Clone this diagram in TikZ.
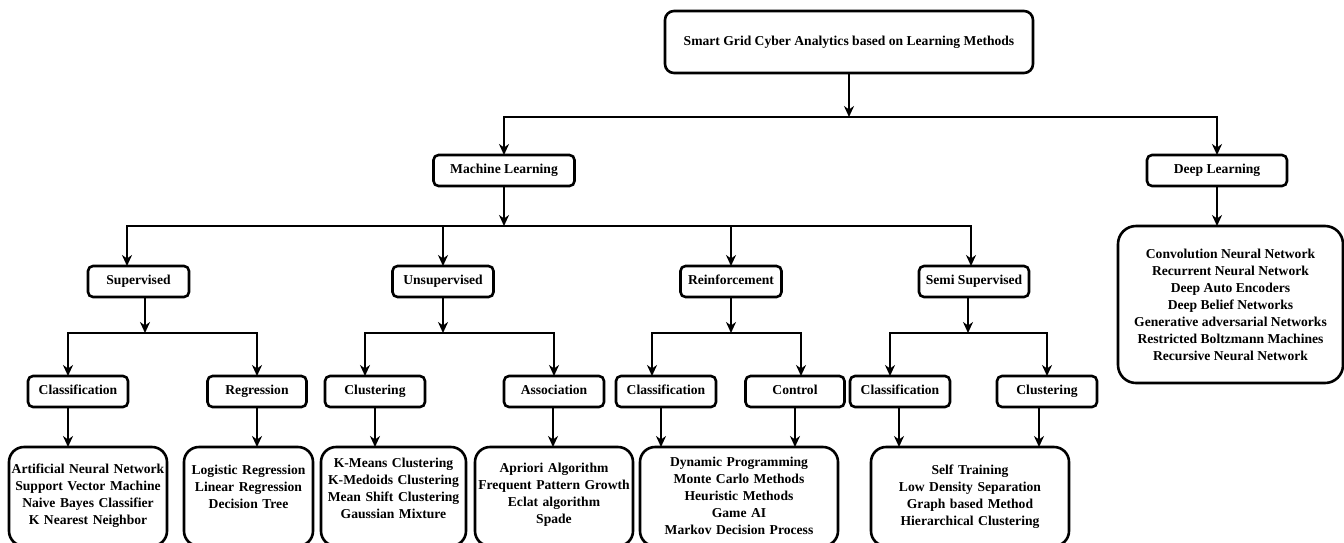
\documentclass[tikz,border=0pt]{standalone}
\usepackage{fontspec}
\setmainfont{Liberation Serif}
\usetikzlibrary{arrows.meta}
\begin{document}
\begin{tikzpicture}[x=1pt,y=-1pt,
  every node/.style={font=\fontsize{13.6}{17}\selectfont\bfseries, outer sep=0pt},
  sbox/.style={draw, line width=2.6pt, rounded corners=5pt, minimum height=31pt, inner sep=0pt, text height=9.6pt, text depth=3pt},
  lbox/.style={draw, line width=2.6pt, rounded corners=15pt, anchor=north, inner sep=0pt, align=center},
  conn/.style={line width=2.3pt, -{Stealth[length=11pt,width=10pt,inset=3.5pt]}}
]
\useasboundingbox (0,0) rectangle (1344,542);
\clip (0,0) rectangle (1344,542);

% level 0
\node[sbox, minimum width=368pt, minimum height=62pt, rounded corners=9pt] (top) at (849,42) {Smart Grid Cyber Analytics based on Learning Methods};
% level 1
\node[sbox, minimum width=141pt] (ml) at (504,170.5) {Machine Learning};
\node[sbox, minimum width=140pt] (dl) at (1217,170.5) {Deep Learning};
% level 2
\node[sbox, minimum width=101pt] (sup) at (138.5,281.5) {Supervised};
\node[sbox, minimum width=101pt] (uns) at (443,281.5) {Unsupervised};
\node[sbox, minimum width=101pt] (rei) at (731,281.5) {Reinforcement};
\node[sbox, minimum width=110pt] (sem) at (974,281.5) {Semi Supervised};
% level 3
\node[sbox, minimum width=100pt] (cls1) at (78,391.5) {Classification};
\node[sbox, minimum width=99pt] (reg) at (257,391.5) {Regression};
\node[sbox, minimum width=100pt] (clu1) at (375,391.5) {Clustering};
\node[sbox, minimum width=100pt] (ass) at (554,391.5) {Association};
\node[sbox, minimum width=100pt] (cls2) at (666,391.5) {Classification};
\node[sbox, minimum width=99pt] (con) at (795,391.5) {Control};
\node[sbox, minimum width=100pt] (cls3) at (900,391.5) {Classification};
\node[sbox, minimum width=100pt] (clu3) at (1047,391.5) {Clustering};

% deep learning list
\node[draw, line width=2.6pt, rounded corners=18pt, minimum width=225pt, minimum height=157pt, inner sep=0pt, align=center] (dll) at (1230.5,304.5)
 {Convolution Neural Network\\Recurrent Neural Network\\Deep Auto Encoders\\Deep Belief Networks\\Generative adversarial Networks\\Restricted Boltzmann Machines\\Recursive Neural Network};

% bottom lists
\node[lbox, text width=158pt, text height=26.5pt, text depth=72.5pt] (ann) at (88,447)
 {Artificial Neural Network\\Support Vector Machine\\Naive Bayes Classifier\\K Nearest Neighbor};
\node[lbox, text width=129pt, text height=27.5pt, text depth=71.5pt] (rlist) at (248.5,447)
 {Logistic Regression\\Linear Regression\\Decision Tree};
\node[lbox, text width=145pt, text height=20.5pt, text depth=78.5pt] (kml) at (393.5,447)
 {K-Means Clustering\\K-Medoids Clustering\\Mean Shift Clustering\\Gaussian Mixture};
\node[lbox, text width=158pt, text height=25.5pt, text depth=73.5pt] (apr) at (554,447)
 {Apriori Algorithm\\Frequent Pattern Growth\\Eclat algorithm\\Spade};
\node[lbox, text width=198pt, text height=19.5pt, text depth=79.5pt] (dyn) at (739,447)
 {Dynamic Programming\\Monte Carlo Methods\\Heuristic Methods\\Game AI\\Markov Decision Process};
\node[lbox, text width=198pt, text height=27.5pt, text depth=71.5pt] (slf) at (970,447)
 {Self Training\\Low Density Separation\\Graph based Method\\Hierarchical Clustering};

% junctions
\coordinate (topj) at (849,117);
\coordinate (mlj) at (504,226);
\coordinate (supj) at (145,333);
\coordinate (unsj) at (443,333);
\coordinate (reij) at (731,333);
\coordinate (semj) at (968,333);

% connectors level 0 -> 1
\draw[conn] (top.south) -- (topj);
\draw[conn] (topj) -| (ml.north);
\draw[conn] (topj) -| (dl.north);
% level 1 -> 2
\draw[conn] (ml.south) -- (mlj);
\draw[conn] (mlj) -| ([xshift=-11.5pt]sup.north);
\draw[conn] (mlj) -| (uns.north);
\draw[conn] (mlj) -| (rei.north);
\draw[conn] (mlj) -| ([xshift=-3pt]sem.north);
\draw[conn] (dl.south) -- (dl.south |- dll.north);
% level 2 -> 3
\draw[conn] ([xshift=6.5pt]sup.south) -- (supj);
\draw[conn] (supj) -| ([xshift=-10pt]cls1.north);
\draw[conn] (supj) -| (reg.north);
\draw[conn] (uns.south) -- (unsj);
\draw[conn] (unsj) -| ([xshift=-10pt]clu1.north);
\draw[conn] (unsj) -| (ass.north);
\draw[conn] (rei.south) -- (reij);
\draw[conn] (reij) -| ([xshift=-14pt]cls2.north);
\draw[conn] (reij) -| ([xshift=6pt]con.north);
\draw[conn] ([xshift=-6pt]sem.south) -- (semj);
\draw[conn] (semj) -| ([xshift=-10pt]cls3.north);
\draw[conn] (semj) -| (clu3.north);
% level 3 -> lists
\draw[conn] ([xshift=-10pt]cls1.south) -- ([xshift=-10pt]cls1.south |- ann.north);
\draw[conn] (reg.south) -- (reg.south |- rlist.north);
\draw[conn] (clu1.south) -- (clu1.south |- kml.north);
\draw[conn] ([xshift=-1pt]ass.south) -- ([xshift=-1pt]ass.south |- apr.north);
\draw[conn] ([xshift=-5pt]cls2.south) -- ([xshift=-5pt]cls2.south |- dyn.north);
\draw[conn] (con.south) -- (con.south |- dyn.north);
\draw[conn] ([xshift=-1pt]cls3.south) -- ([xshift=-1pt]cls3.south |- slf.north);
\draw[conn] ([xshift=-8pt]clu3.south) -- ([xshift=-8pt]clu3.south |- slf.north);
\end{tikzpicture}
\end{document}
